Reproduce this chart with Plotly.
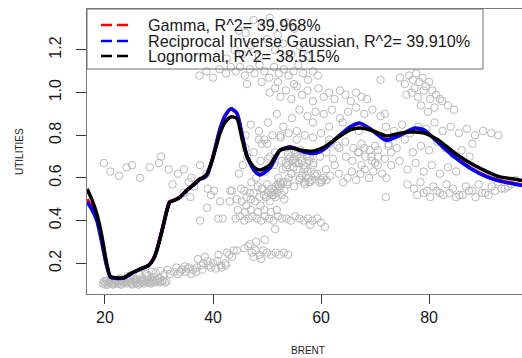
import plotly.graph_objects as go

# ---------------- data ----------------
# fitted curves (BRENT grid and fitted UTILITIES)
fit_brent = [16.7, 17.6, 18.5, 19.4, 20.2, 21.0, 22.0, 23.5, 24.6, 26.5, 28.1, 29.0, 29.6,
             30.6, 31.5, 32.0, 33.0, 33.9, 35.2, 36.5, 37.6, 38.3, 38.9, 39.8, 40.4, 41.3,
             42.2, 43.3, 44.4, 45.4, 46.3, 47.6, 48.7, 50.5, 51.5, 52.4, 54.3, 56.9, 58.7,
             60.6, 63.0, 65.4, 67.2, 69.1, 71.7, 72.2, 74.6, 76.5, 77.4, 79.1, 81.5, 84.6,
             87.6, 90.7, 93.1, 95.7, 97.2]
lognormal_fit = [0.548, 0.497, 0.430, 0.330, 0.215, 0.138, 0.132, 0.132, 0.150, 0.173, 0.190,
                 0.220, 0.260, 0.356, 0.450, 0.487, 0.497, 0.510, 0.543, 0.570, 0.595, 0.605,
                 0.620, 0.680, 0.730, 0.810, 0.860, 0.886, 0.880, 0.780, 0.700, 0.650, 0.637,
                 0.660, 0.700, 0.730, 0.740, 0.727, 0.727, 0.745, 0.787, 0.825, 0.834, 0.825,
                 0.800, 0.797, 0.810, 0.815, 0.815, 0.810, 0.780, 0.720, 0.670, 0.630, 0.605,
                 0.595, 0.588]
rig_fit = [0.487, 0.450, 0.400, 0.300, 0.200, 0.135, 0.130, 0.131, 0.148, 0.172, 0.190,
           0.222, 0.262, 0.358, 0.452, 0.487, 0.497, 0.510, 0.543, 0.570, 0.595, 0.600,
           0.615, 0.680, 0.740, 0.830, 0.890, 0.925, 0.905, 0.800, 0.700, 0.635, 0.614,
           0.645, 0.690, 0.730, 0.745, 0.722, 0.715, 0.735, 0.790, 0.840, 0.857, 0.830,
           0.780, 0.777, 0.800, 0.825, 0.834, 0.825, 0.770, 0.700, 0.646, 0.605, 0.585,
           0.572, 0.565]
gamma_fit = [0.500, 0.458, 0.405, 0.303, 0.202, 0.136, 0.131, 0.132, 0.149, 0.173, 0.191,
             0.223, 0.263, 0.360, 0.454, 0.488, 0.498, 0.511, 0.544, 0.571, 0.596, 0.601,
             0.616, 0.681, 0.741, 0.831, 0.890, 0.923, 0.903, 0.800, 0.701, 0.637, 0.617,
             0.647, 0.692, 0.731, 0.745, 0.724, 0.718, 0.737, 0.790, 0.839, 0.855, 0.829,
             0.782, 0.779, 0.801, 0.824, 0.832, 0.823, 0.771, 0.702, 0.648, 0.607, 0.587,
             0.574, 0.567]

# observed points, grouped by region of the scatter
a_x = [19.6, 20.1, 20.5, 20.9, 21.2, 21.6, 21.9, 22.3, 22.6, 23.0, 23.3, 23.7, 24.0, 24.4, 24.8,
       25.1, 25.5, 25.9, 26.2, 26.6, 27.0, 27.3, 27.7, 28.1, 28.5, 28.9, 29.3, 29.7, 30.2, 30.8,
       31.4, 21.0, 22.0, 23.5, 24.6, 25.8, 26.9, 28.0, 29.0, 24.2, 26.4, 27.5, 30.0, 22.8,
       19.8, 20.3, 20.7, 21.4, 21.8, 22.1, 22.5, 22.9, 23.2, 23.6, 23.9, 24.3, 24.7, 25.3, 25.7,
       26.0, 26.8, 27.2, 27.9, 28.3, 28.7, 29.5, 29.9, 30.5, 31.1, 20.0, 21.5, 23.1, 25.0, 26.5]
a_y = [0.105, 0.11, 0.10, 0.115, 0.105, 0.11, 0.12, 0.105, 0.11, 0.10, 0.115, 0.11, 0.105, 0.12,
       0.11, 0.105, 0.115, 0.11, 0.10, 0.12, 0.11, 0.105, 0.115, 0.11, 0.105, 0.12, 0.11, 0.115,
       0.11, 0.12, 0.115, 0.125, 0.12, 0.125, 0.13, 0.125, 0.13, 0.14, 0.135, 0.14, 0.145, 0.15,
       0.13, 0.13,
       0.115, 0.12, 0.11, 0.12, 0.105, 0.115, 0.125, 0.115, 0.12, 0.11, 0.125, 0.115, 0.12, 0.125,
       0.105, 0.12, 0.115, 0.12, 0.125, 0.11, 0.115, 0.12, 0.125, 0.115, 0.11, 0.10, 0.10, 0.105,
       0.10, 0.105]
b_x = [32.0, 32.8, 33.5, 34.2, 35.0, 35.6, 36.3, 36.9, 33.2, 34.8, 36.0, 37.8, 38.5, 39.3, 40.0,
       40.8, 41.5, 42.3, 43.0, 43.8, 39.0, 41.0, 42.6, 38.2,
       27.8, 28.6, 29.4, 30.2, 31.0, 31.6, 33.9, 35.3, 37.0, 38.0, 39.6, 40.5, 41.6, 42.4, 37.2,
       43.5]
b_y = [0.15, 0.16, 0.15, 0.17, 0.16, 0.18, 0.17, 0.16, 0.18, 0.185, 0.15, 0.19, 0.23, 0.19, 0.20,
       0.21, 0.19, 0.20, 0.24, 0.26, 0.21, 0.24, 0.25, 0.20,
       0.15, 0.16, 0.155, 0.165, 0.15, 0.17, 0.16, 0.175, 0.18, 0.17, 0.18, 0.175, 0.18, 0.19,
       0.22, 0.23]
c_x = [37.6, 41.0, 41.8, 38.9, 41.3, 40.2, 43.1, 43.2, 39.0, 39.6, 36.5, 34.6, 35.8]
c_y = [0.40, 0.41, 0.41, 0.46, 0.49, 0.54, 0.49, 0.54, 0.55, 0.52, 0.56, 0.53, 0.51]
d_x = [44.2, 45.0, 45.8, 46.6, 47.3, 48.1, 48.9, 49.6, 50.4, 51.2, 52.0, 52.8, 53.6, 54.4, 55.2,
       56.0, 56.8, 57.6, 58.4, 59.3, 60.0, 44.6, 45.9, 47.0, 48.3, 49.5, 50.7, 51.8, 46.2, 48.8,
       51.5, 58.0, 60.7]
d_y = [0.41, 0.42, 0.40, 0.41, 0.42, 0.41, 0.40, 0.42, 0.41, 0.40, 0.42, 0.41, 0.41, 0.40, 0.42,
       0.41, 0.40, 0.41, 0.40, 0.41, 0.39, 0.45, 0.44, 0.45, 0.44, 0.45, 0.44, 0.45, 0.47, 0.47,
       0.36, 0.38, 0.37]
e_x = [44.4, 45.8, 46.5, 47.2, 47.9, 48.6, 49.3, 50.0, 50.8, 51.6, 52.3, 53.1, 53.9, 46.8, 48.0,
       49.6, 47.5, 48.9]
e_y = [0.26, 0.27, 0.28, 0.25, 0.26, 0.24, 0.26, 0.25, 0.24, 0.25, 0.24, 0.25, 0.24, 0.29, 0.30,
       0.31, 0.23, 0.22]
f_x = [44.4, 45.3, 46.2, 47.0, 47.8, 48.6, 49.4, 50.2, 50.8, 51.3, 51.8, 52.3, 52.8, 51.0, 51.6,
       52.2, 50.5, 53.2, 45.8, 47.5, 49.0, 53.8]
f_y = [0.50, 0.49, 0.51, 0.50, 0.49, 0.51, 0.52, 0.53, 0.55, 0.54, 0.53, 0.55, 0.52, 0.52, 0.51,
       0.56, 0.49, 0.50, 0.54, 0.53, 0.55, 0.57]
h_x = [44.8, 45.5, 46.3, 47.1, 48.0, 48.8, 49.7, 50.5, 51.3, 52.1, 52.9, 53.7, 54.5, 55.3, 56.1,
       56.9, 57.7, 58.5, 59.3, 60.1, 60.9, 61.7, 62.5, 63.3, 64.1, 64.9, 65.7, 66.5, 67.3, 68.1,
       68.9, 69.7, 70.5, 71.3, 72.1,
       46.0, 47.5, 49.0, 50.2, 51.5, 52.7, 53.9, 55.0, 56.2, 57.4, 58.6, 59.8, 61.0, 62.2, 63.4,
       64.6, 65.8, 67.0, 68.2, 69.4, 70.6,
       52.0, 53.0, 54.0, 55.0, 56.0, 57.0, 58.0, 54.5, 55.5, 56.5, 57.5, 53.5,
       48.5, 50.0, 51.0, 61.5, 63.0, 64.5, 66.0, 67.5, 69.0, 70.0]
h_y = [0.62, 0.66, 0.70, 0.58, 0.60, 0.68, 0.63, 0.70, 0.66, 0.60, 0.64, 0.58, 0.62, 0.67, 0.60,
       0.64, 0.58, 0.66, 0.62, 0.59, 0.64, 0.61, 0.66, 0.62, 0.58, 0.60, 0.63, 0.59, 0.62, 0.64,
       0.60, 0.63, 0.66, 0.62, 0.60,
       0.74, 0.72, 0.76, 0.69, 0.72, 0.68, 0.71, 0.69, 0.73, 0.70, 0.67, 0.70, 0.72, 0.69, 0.74,
       0.70, 0.68, 0.72, 0.70, 0.68, 0.70,
       0.57, 0.58, 0.60, 0.56, 0.59, 0.57, 0.58, 0.62, 0.64, 0.61, 0.63, 0.65,
       0.78, 0.76, 0.80, 0.76, 0.75, 0.77, 0.74, 0.76, 0.73, 0.75]
g_x = [53.8, 54.3, 54.8, 55.3, 55.8, 56.3, 56.8, 57.3, 57.8, 54.1, 54.9, 55.6, 56.4, 57.1, 57.9,
       53.5, 55.0, 56.6,
       56.9, 57.6, 58.3, 59.0, 59.7, 60.4, 61.0, 57.2, 58.8, 60.1,
       49.2, 50.0, 50.8, 51.6, 52.4, 53.2, 49.8, 51.2, 52.6,
       43.5, 45.2, 46.8, 48.3,
       52.5, 54.0, 55.5, 57.0, 58.5, 60.0, 61.5,
       66.8, 68.0, 69.3, 70.5, 71.8, 73.0, 67.5, 70.0, 72.5]
g_y = [0.66, 0.70, 0.68, 0.72, 0.67, 0.70, 0.66, 0.71, 0.68, 0.69, 0.65, 0.71, 0.68, 0.65, 0.70,
       0.67, 0.73, 0.72,
       0.58, 0.60, 0.59, 0.61, 0.58, 0.60, 0.59, 0.61, 0.62, 0.58,
       0.55, 0.57, 0.53, 0.56, 0.58, 0.54, 0.51, 0.52, 0.57,
       0.54, 0.55, 0.53, 0.56,
       0.79, 0.81, 0.78, 0.80, 0.79, 0.81, 0.78,
       0.72, 0.74, 0.70, 0.73, 0.69, 0.72, 0.66, 0.67, 0.75]
i_x = [47.0, 48.5, 50.2, 51.8, 53.0, 54.6, 56.0, 57.5, 59.0, 60.5, 62.0, 63.5, 65.0, 66.5, 68.0,
       69.5, 71.0, 52.5, 55.5, 58.5, 61.5, 64.0, 67.0, 46.0, 49.5]
i_y = [0.85, 0.82, 0.86, 0.90, 0.84, 0.88, 0.92, 0.89, 0.91, 0.90, 0.92, 0.88, 0.91, 0.93, 0.90,
       0.92, 0.89, 0.80, 0.82, 0.86, 0.84, 0.86, 0.82, 0.80, 0.78]
j_x = [44.2, 45.0, 45.9, 46.8, 47.7, 48.6, 49.5, 50.4, 51.3, 52.2, 53.1, 54.0, 54.9, 55.8, 56.7,
       57.6, 58.5, 59.4,
       50.5, 51.5, 52.5, 53.5, 54.5, 55.5, 56.5, 57.5, 58.5, 59.5, 60.5, 61.5, 62.5, 63.5, 64.5,
       65.5, 66.5, 67.5, 68.5,
       37.5, 38.8, 40.0, 41.2, 42.4, 43.3, 71.0, 46.3, 49.0, 52.0, 55.0]
j_y = [1.10, 1.12, 1.08, 1.11, 1.09, 1.13, 1.10, 1.07, 1.12, 1.09, 1.11, 1.08, 1.10, 1.13, 1.09,
       1.06, 1.10, 1.08,
       1.00, 1.02, 0.98, 1.01, 0.97, 1.03, 0.99, 1.01, 0.96, 1.02, 0.98, 1.00, 0.97, 1.01, 0.99,
       0.96, 1.00, 0.98, 0.97,
       1.08, 1.10, 1.07, 1.11, 1.09, 1.12, 1.06, 1.04, 1.05, 1.05, 1.04]
k_x = [42.5, 44.0, 45.5, 47.0, 48.5, 50.0, 51.5, 53.0, 54.5, 56.0, 57.5, 46.0, 49.0, 52.0, 55.0,
       50.5, 47.5, 53.5, 58.5, 44.8]
k_y = [1.16, 1.20, 1.18, 1.22, 1.17, 1.25, 1.20, 1.23, 1.18, 1.22, 1.17, 1.28, 1.31, 1.27, 1.30,
       1.35, 1.34, 1.33, 1.24, 1.29]
l_x = [74.6, 75.5, 76.3, 77.0, 77.6, 78.2, 78.8, 79.4, 80.0, 80.6, 76.8, 77.9, 79.0, 80.2, 81.3,
       82.4, 83.5, 84.6, 78.5, 79.8, 81.0, 77.3, 75.8, 82.0]
l_y = [1.07, 1.04, 1.08, 1.06, 1.09, 1.05, 1.07, 1.03, 1.05, 1.01, 1.00, 0.98, 1.01, 0.97, 0.99,
       0.96, 0.94, 0.92, 0.94, 0.91, 0.93, 1.02, 0.99, 0.97]
m_x = [72.0, 73.5, 75.0, 76.5, 78.0, 79.5, 81.0, 82.5, 84.0, 85.5, 87.0, 88.5, 90.0, 91.5, 92.8,
       72.5, 74.0, 75.5, 77.0, 78.5, 80.0, 81.5, 83.0, 84.5, 86.0, 87.5,
       73.0, 74.5, 76.0, 77.5, 79.0, 80.5, 82.0, 83.5, 85.0,
       71.8, 88.0]
m_y = [0.84, 0.82, 0.85, 0.81, 0.84, 0.83, 0.86, 0.82, 0.84, 0.81, 0.83, 0.80, 0.82, 0.81, 0.80,
       0.76, 0.74, 0.78, 0.72, 0.75, 0.73, 0.77, 0.74, 0.71, 0.73, 0.70,
       0.66, 0.68, 0.64, 0.67, 0.63, 0.66, 0.62, 0.65, 0.63,
       0.90, 0.76]
n_x = [72.0, 76.0, 77.2, 78.4, 79.6, 80.8, 82.0, 83.2, 84.4, 85.6, 86.8, 88.0, 89.2, 90.4, 91.6,
       92.8, 94.0, 95.2, 96.0,
       77.8, 79.0, 80.2, 81.4, 82.6, 83.8, 85.0, 86.2, 87.4, 88.6, 89.8, 91.0, 92.2, 93.4, 94.6]
n_y = [0.51, 0.57, 0.55, 0.58, 0.54, 0.56, 0.53, 0.57, 0.55, 0.52, 0.56, 0.54, 0.57, 0.53, 0.56,
       0.58, 0.55, 0.57, 0.59,
       0.52, 0.53, 0.51, 0.54, 0.52, 0.53, 0.51, 0.52, 0.54, 0.51, 0.53, 0.52, 0.54, 0.55, 0.56]
o_x = [19.8, 22.6, 24.0, 25.0, 28.3, 30.0, 30.4, 31.8, 33.5, 34.6, 36.0, 37.6, 26.5, 21.0, 38.8,
       35.5, 32.5]
o_y = [0.67, 0.61, 0.65, 0.66, 0.65, 0.67, 0.70, 0.64, 0.62, 0.64, 0.60, 0.66, 0.60, 0.63, 0.62,
       0.58, 0.57]

brent_obs = (a_x + b_x + c_x + d_x + e_x + f_x + h_x + g_x + i_x + j_x + k_x + l_x + m_x
             + n_x + o_x)
util_obs = (a_y + b_y + c_y + d_y + e_y + f_y + h_y + g_y + i_y + j_y + k_y + l_y + m_y
            + n_y + o_y)

x_ticks = [20, 40, 60, 80]
y_ticks = [0.2, 0.4, 0.6, 0.8, 1.0, 1.2]
y_tick_text = ["0.2", "0.4", "0.6", "0.8", "1.0", "1.2"]

legend_labels = ["Gamma, R^2= 39.968%",
                 "Reciprocal Inverse Gaussian, R^2= 39.910%",
                 "Lognormal, R^2= 38.515%"]
legend_colors = ["#FF0000", "#0000FF", "#000000"]

# ---------------- figure ----------------
FONT = "Liberation Sans, Arial, sans-serif"
W, H = 522, 358
ML, MR, MT, MB = 87, 0, 9, 64
PW, PH = W - ML - MR, H - MT - MB


def px_x(p):
    return (p - ML) / PW


def px_y(p):
    return (H - MB - p) / PH


fig = go.Figure()
fig.add_trace(go.Scatter(x=brent_obs, y=util_obs, mode="markers",
                         marker=dict(symbol="circle-open", size=7.5, color="#B9B9B9",
                                     line=dict(width=1, color="#B9B9B9")),
                         showlegend=False, hoverinfo="skip"))
for ys, col in zip([gamma_fit, rig_fit, lognormal_fit], legend_colors):
    fig.add_trace(go.Scatter(x=fit_brent, y=ys, mode="lines",
                             line=dict(color=col, width=3.5, shape="spline", smoothing=0.6),
                             showlegend=False))

shapes = [dict(type="rect", xref="paper", yref="paper", x0=0, x1=px_x(483),
               y0=px_y(69), y1=1, line=dict(color="#6E6E6E", width=1),
               fillcolor="rgba(0,0,0,0)")]
annotations = []
rows = [25, 41, 56]
for lab, col, r in zip(legend_labels, legend_colors, rows):
    shapes.append(dict(type="line", xref="paper", yref="paper", x0=px_x(101), x1=px_x(129),
                       y0=px_y(r), y1=px_y(r), line=dict(color=col, width=2.5, dash="11px,5px")))
    annotations.append(dict(xref="paper", yref="paper", x=px_x(146), y=px_y(r), text=lab,
                            showarrow=False, xanchor="left", yanchor="middle",
                            font=dict(family=FONT, size=16.2, color="#1A1A1A")))
annotations.append(dict(xref="paper", yref="paper", x=px_x(308), y=px_y(350), text="BRENT",
                        showarrow=False, xanchor="center", yanchor="middle",
                        font=dict(family=FONT, size=10, color="#1A1A1A")))
annotations.append(dict(xref="paper", yref="paper", x=px_x(19), y=px_y(152), text="UTILITIES",
                        showarrow=False, xanchor="center", yanchor="middle", textangle=-90,
                        font=dict(family=FONT, size=10, color="#1A1A1A")))

fig.update_layout(
    width=W, height=H, margin=dict(l=ML, r=MR, t=MT, b=MB),
    paper_bgcolor="white", plot_bgcolor="white",
    font=dict(family=FONT, size=16, color="#1A1A1A"),
    shapes=shapes, annotations=annotations, showlegend=False,
    xaxis=dict(range=[16.67, 97.2], tickvals=x_ticks, showgrid=False, zeroline=False,
               showline=True, mirror=True, linecolor="#7A7A7A", linewidth=1,
               ticks="outside", ticklen=9, tickcolor="#333333", tickwidth=1,
               tickfont=dict(family=FONT, size=16, color="#1A1A1A")),
    yaxis=dict(range=[0.056, 1.392], tickvals=y_ticks, ticktext=y_tick_text, tickangle=-90,
               showgrid=False, zeroline=False, showline=True, mirror=False,
               linecolor="#7A7A7A", linewidth=1, ticklabelstandoff=9,
               ticks="outside", ticklen=10, tickcolor="#333333", tickwidth=1,
               tickfont=dict(family=FONT, size=16, color="#1A1A1A")),
)

fig.write_html("out.html")
